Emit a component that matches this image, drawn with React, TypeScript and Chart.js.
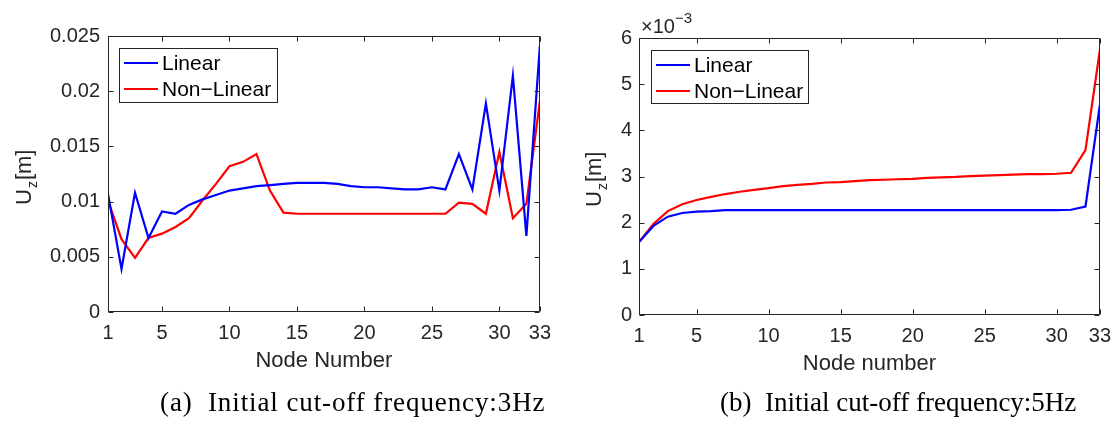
import React, { useEffect, useRef } from "react";
import { Chart, registerables } from "chart.js";

Chart.register(...registerables);

// ---------- data ----------
const nodes = [
  1, 2, 3, 4, 5, 6, 7, 8, 9, 10, 11, 12, 13, 14, 15, 16, 17, 18, 19, 20, 21,
  22, 23, 24, 25, 26, 27, 28, 29, 30, 31, 32, 33,
];

// (a) cut-off 3Hz, values in m
const linear3Hz = [
  0.0107, 0.0039, 0.0108, 0.0067, 0.0091, 0.0089, 0.0097, 0.0102, 0.0106,
  0.011, 0.0112, 0.0114, 0.0115, 0.0116, 0.0117, 0.0117, 0.0117, 0.0116,
  0.0114, 0.0113, 0.0113, 0.0112, 0.0111, 0.0111, 0.0113, 0.0111, 0.0143,
  0.0111, 0.0189, 0.011, 0.0214, 0.0069, 0.0241,
];
const nonLinear3Hz = [
  0.0101, 0.0066, 0.0049, 0.0067, 0.0071, 0.0077, 0.0085, 0.0101, 0.0116,
  0.0132, 0.0136, 0.0143, 0.011, 0.009, 0.0089, 0.0089, 0.0089, 0.0089,
  0.0089, 0.0089, 0.0089, 0.0089, 0.0089, 0.0089, 0.0089, 0.0089, 0.0099,
  0.0098, 0.0089, 0.0145, 0.0085, 0.0098, 0.0191,
];

// (b) cut-off 5Hz, values in m
const linear5Hz = [
  0.00158, 0.00193, 0.00213, 0.00221, 0.00224, 0.00225, 0.00227, 0.00227,
  0.00227, 0.00227, 0.00227, 0.00227, 0.00227, 0.00227, 0.00227, 0.00227,
  0.00227, 0.00227, 0.00227, 0.00227, 0.00227, 0.00227, 0.00227, 0.00227,
  0.00227, 0.00227, 0.00227, 0.00227, 0.00227, 0.00227, 0.00228, 0.00235,
  0.00455,
];
const nonLinear5Hz = [
  0.00158, 0.00197, 0.00225, 0.0024, 0.00249, 0.00256, 0.00262, 0.00267,
  0.00271, 0.00275, 0.00279, 0.00282, 0.00284, 0.00287, 0.00288, 0.0029,
  0.00292, 0.00293, 0.00294, 0.00295, 0.00297, 0.00298, 0.00299, 0.00301,
  0.00302, 0.00303, 0.00304, 0.00305, 0.00305, 0.00306, 0.00308, 0.00357,
  0.00574,
];

const xTicks = [1, 5, 10, 15, 20, 25, 30, 33];
const yTicks3Hz = [0, 0.005, 0.01, 0.015, 0.02, 0.025];
const yTicks5Hz = [0, 0.001, 0.002, 0.003, 0.004, 0.005, 0.006];
const seriesNames = ["Linear", "Non\u2212Linear"];
const xTitles = ["Node Number", "Node number"];
const captions = [
  "(a)  Initial cut-off frequency:3Hz",
  "(b)  Initial cut-off frequency:5Hz",
];

// ---------- styling ----------
const SANS = "'Liberation Sans', Arial, sans-serif";
const AXIS = "#262626";
const BLUE = "#0000ff";
const RED = "#ff0000";

type PanelCfg = {
  linear: number[];
  nonLinear: number[];
  yTicks: number[];
  yMax: number;
  fmt: (v: number) => string;
  xTitle: string;
  pad: { left: number; right: number; top: number };
  yWidth: number;
  xHeight: number;
  yLabelPad: number;
  yTitleX: number;
  yTitleStartY: number;
  legend: { x: number; y: number; w: number; h: number };
  exponent: boolean;
};

function makeFramePlugin(cfg: PanelCfg) {
  return {
    id: "matlabFrame",
    afterDraw(chart: any) {
      const { ctx, chartArea: a, scales } = chart;
      const L = Math.round(a.left) + 0.5;
      const R = Math.round(a.right) - 0.5;
      const T = Math.round(a.top) + 0.5;
      const B = Math.round(a.bottom) - 0.5;
      ctx.save();
      ctx.strokeStyle = AXIS;
      ctx.lineWidth = 1;
      ctx.beginPath();
      ctx.rect(L, T, R - L, B - T);
      ctx.stroke();
      // inward ticks
      ctx.beginPath();
      for (const v of xTicks) {
        const px = Math.round(scales.x.getPixelForValue(v)) + 0.5;
        ctx.moveTo(px, B);
        ctx.lineTo(px, B - 5);
        ctx.moveTo(px, T);
        ctx.lineTo(px, T + 5);
      }
      for (const v of cfg.yTicks) {
        const py = Math.round(scales.y.getPixelForValue(v)) + 0.5;
        ctx.moveTo(L, py);
        ctx.lineTo(L + 5, py);
        ctx.moveTo(R, py);
        ctx.lineTo(R - 5, py);
      }
      ctx.stroke();

      // legend
      const lg = cfg.legend;
      ctx.fillStyle = "#ffffff";
      ctx.fillRect(lg.x, lg.y, lg.w, lg.h);
      ctx.strokeStyle = AXIS;
      ctx.strokeRect(lg.x + 0.5, lg.y + 0.5, lg.w, lg.h);
      const rows = [
        { name: seriesNames[0], color: BLUE, cy: lg.y + 15 },
        { name: seriesNames[1], color: RED, cy: lg.y + 41 },
      ];
      ctx.font = `21px ${SANS}`;
      ctx.textBaseline = "middle";
      ctx.textAlign = "left";
      for (const r of rows) {
        ctx.strokeStyle = r.color;
        ctx.lineWidth = 2;
        ctx.beginPath();
        ctx.moveTo(lg.x + 5, r.cy);
        ctx.lineTo(lg.x + 39, r.cy);
        ctx.stroke();
        ctx.fillStyle = "#000000";
        ctx.fillText(r.name, lg.x + 43, r.cy + 1);
      }

      // x title
      ctx.fillStyle = AXIS;
      ctx.font = `22px ${SANS}`;
      ctx.textAlign = "center";
      ctx.textBaseline = "alphabetic";
      ctx.fillText(cfg.xTitle, (a.left + a.right) / 2, a.bottom + 55);

      // y title: U_z[m]
      ctx.save();
      ctx.translate(cfg.yTitleX, cfg.yTitleStartY);
      ctx.rotate(-Math.PI / 2);
      ctx.textAlign = "left";
      ctx.textBaseline = "alphabetic";
      ctx.font = `22px ${SANS}`;
      let x = 0;
      ctx.fillText("U", x, 0);
      x += ctx.measureText("U").width;
      ctx.font = `14px ${SANS}`;
      ctx.fillText("z", x + 1, 6);
      x += ctx.measureText("z").width + 2;
      ctx.font = `22px ${SANS}`;
      ctx.fillText("[m]", x, 0);
      ctx.restore();

      // exponent
      if (cfg.exponent) {
        ctx.fillStyle = AXIS;
        ctx.textAlign = "left";
        ctx.textBaseline = "alphabetic";
        ctx.font = `20px ${SANS}`;
        const ex = a.left + 2;
        ctx.fillText("\u00d710", ex, 33);
        const w = ctx.measureText("\u00d710").width;
        ctx.font = `15px ${SANS}`;
        ctx.fillText("\u22123", ex + w, 23);
      }
      ctx.restore();
    },
  };
}

function Panel({ cfg }: { cfg: PanelCfg }) {
  const ref = useRef<HTMLCanvasElement | null>(null);
  useEffect(() => {
    if (!ref.current) return;
    const chart = new Chart(ref.current, {
      type: "line",
      data: {
        datasets: [
          {
            label: seriesNames[0],
            data: nodes.map((n, i) => ({ x: n, y: cfg.linear[i] })),
            borderColor: BLUE,
            borderWidth: 2.2,
            pointRadius: 0,
            tension: 0,
          },
          {
            label: seriesNames[1],
            data: nodes.map((n, i) => ({ x: n, y: cfg.nonLinear[i] })),
            borderColor: RED,
            borderWidth: 2.2,
            pointRadius: 0,
            tension: 0,
          },
        ],
      },
      options: {
        animation: false,
        responsive: false,
        devicePixelRatio: 1,
        layout: {
          padding: { left: cfg.pad.left, right: cfg.pad.right, top: cfg.pad.top, bottom: 0 },
        },
        plugins: {
          legend: { display: false },
          tooltip: { enabled: false },
          title: { display: false },
        },
        scales: {
          x: {
            type: "linear",
            min: 1,
            max: 33,
            grid: { display: false, drawTicks: false },
            border: { display: false },
            afterBuildTicks: (s: any) => {
              s.ticks = xTicks.map((v) => ({ value: v }));
            },
            afterFit: (s: any) => {
              s.height = cfg.xHeight;
            },
            ticks: {
              autoSkip: false,
              maxRotation: 0,
              padding: 9,
              color: AXIS,
              font: { family: SANS, size: 20 },
              callback: (v: any) => String(v),
            },
          },
          y: {
            type: "linear",
            min: 0,
            max: cfg.yMax,
            grid: { display: false, drawTicks: false },
            border: { display: false },
            afterBuildTicks: (s: any) => {
              s.ticks = cfg.yTicks.map((v) => ({ value: v }));
            },
            afterFit: (s: any) => {
              s.width = cfg.yWidth;
            },
            ticks: {
              autoSkip: false,
              padding: cfg.yLabelPad,
              color: AXIS,
              font: { family: SANS, size: 20 },
              callback: (v: any) => cfg.fmt(Number(v)),
            },
          },
        },
      },
      plugins: [makeFramePlugin(cfg)],
    } as any);
    return () => chart.destroy();
  }, [cfg]);
  return <canvas ref={ref} width={560} height={421} style={{ width: 560, height: 421, display: "block" }} />;
}

const leftCfg: PanelCfg = {
  linear: linear3Hz,
  nonLinear: nonLinear3Hz,
  yTicks: yTicks3Hz,
  yMax: 0.025,
  fmt: (v) => String(parseFloat(v.toFixed(3))),
  xTitle: xTitles[0],
  pad: { left: 0, right: 13, top: 36 },
  yWidth: 108,
  xHeight: 109,
  yLabelPad: 8,
  yTitleX: 31,
  yTitleStartY: 205,
  legend: { x: 119, y: 48, w: 158, h: 54 },
  exponent: false,
};

const rightCfg: PanelCfg = {
  linear: linear5Hz,
  nonLinear: nonLinear5Hz,
  yTicks: yTicks5Hz,
  yMax: 0.006,
  fmt: (v) => String(Math.round(v * 1000)),
  xTitle: xTitles[1],
  pad: { left: 0, right: 17, top: 38 },
  yWidth: 79,
  xHeight: 106,
  yLabelPad: 7,
  yTitleX: 41,
  yTitleStartY: 207,
  legend: { x: 91, y: 50, w: 157, h: 53 },
  exponent: true,
};

export default function App() {
  const capStyle: React.CSSProperties = {
    position: "absolute",
    top: 389,
    fontFamily: "'Liberation Serif', 'Times New Roman', serif",
    fontSize: 27,
    lineHeight: "27px",
    whiteSpace: "pre",
    color: "#000",
  };
  return (
    <div style={{ position: "absolute", left: 0, top: 0, width: 1120, height: 421, background: "#fff", overflow: "hidden" }}>
      <div style={{ position: "absolute", left: 0, top: 0 }}>
        <Panel cfg={leftCfg} />
      </div>
      <div style={{ position: "absolute", left: 560, top: 0 }}>
        <Panel cfg={rightCfg} />
      </div>
      <div style={{ ...capStyle, left: 160, letterSpacing: "0.9px" }}>{captions[0]}</div>
      <div style={{ ...capStyle, left: 720 }}>{captions[1]}</div>
    </div>
  );
}
